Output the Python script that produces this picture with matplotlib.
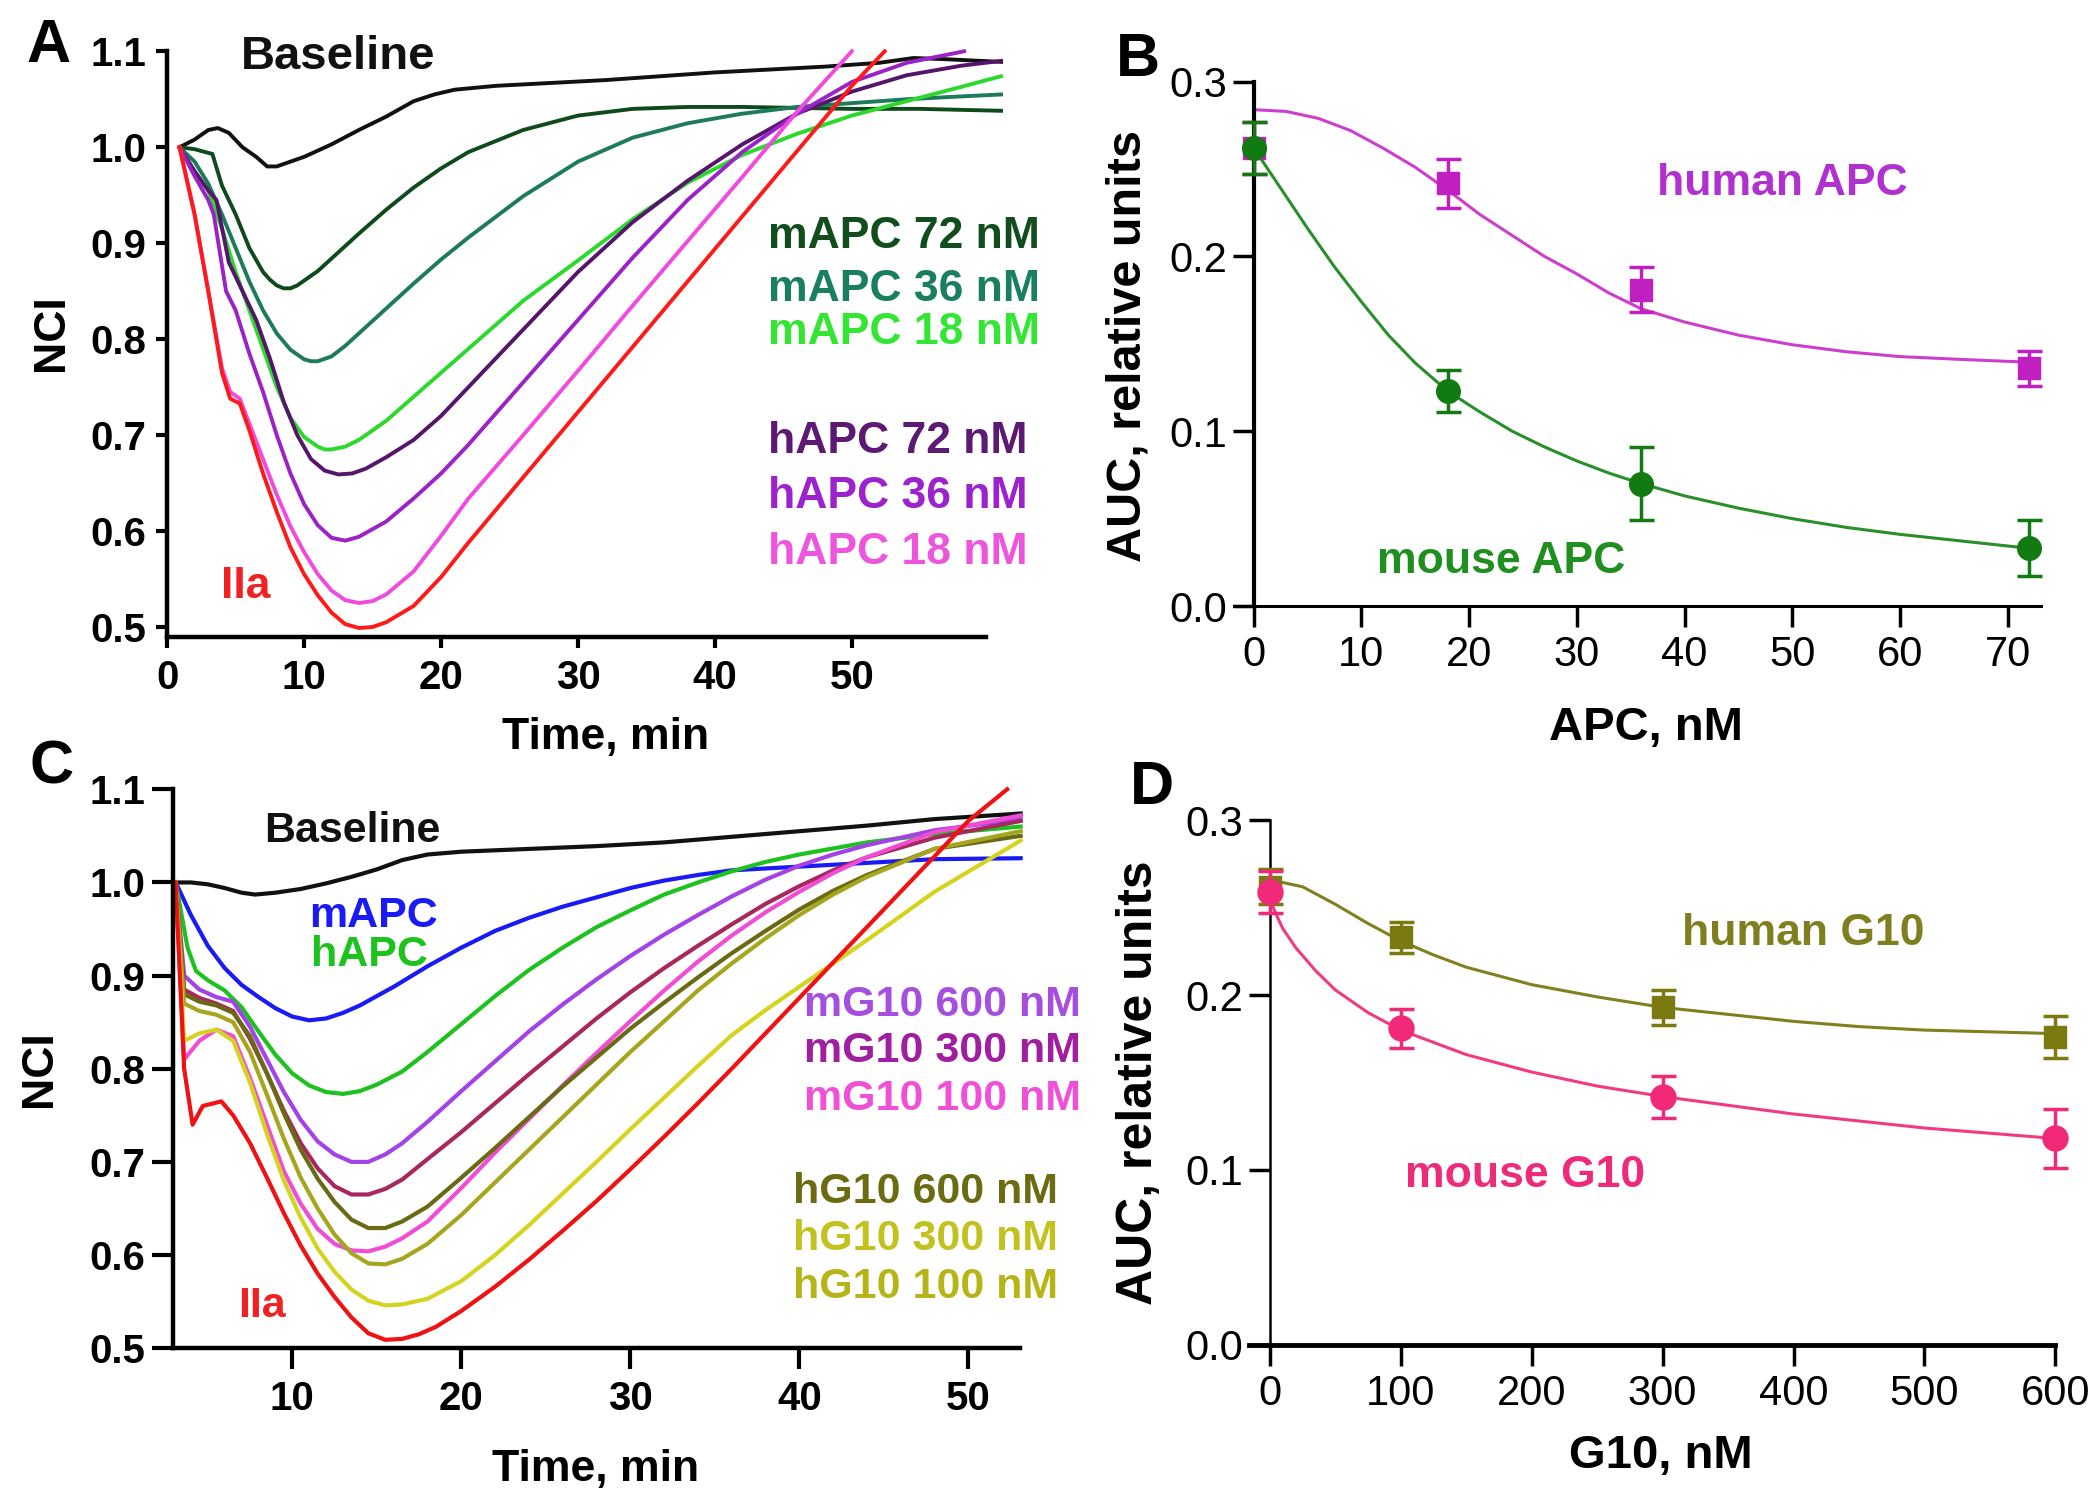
import matplotlib
matplotlib.use("Agg")
import matplotlib.pyplot as plt
from matplotlib import font_manager

plt.rcParams['font.family'] = ['Liberation Sans', 'DejaVu Sans']
plt.rcParams['font.weight'] = 'bold'
_names = {f.name for f in font_manager.fontManager.ttflist}
NARROW = 'Liberation Sans Narrow' if 'Liberation Sans Narrow' in _names else 'Liberation Sans'

W, H = 2100, 1508

# ---------------- Panel A data (NCI vs time) ----------------
a_t_base = [0.9, 2, 3, 3.7, 4.5, 5.5, 6.5, 7.3, 8, 9, 10, 12, 14, 16, 18, 19.5, 21, 24, 28, 32, 36, 40, 44, 48, 52, 54.5, 56.5, 60.9]
a_v_base = [1.0, 1.008, 1.018, 1.02, 1.015, 1.0, 0.99, 0.98, 0.98, 0.985, 0.99, 1.003, 1.018, 1.032, 1.048, 1.055, 1.06, 1.064, 1.067, 1.07, 1.074, 1.078, 1.081, 1.084, 1.088, 1.093, 1.092, 1.089]

a_t_m72 = [0.9, 2, 3.3, 4, 5, 6, 7, 7.5, 8, 8.5, 9, 9.5, 10, 11, 12, 14, 16, 18, 20, 22, 26, 30, 34, 38, 42, 46, 50, 55, 60.9]
a_v_m72 = [1.0, 0.998, 0.993, 0.96, 0.93, 0.895, 0.87, 0.862, 0.856, 0.853, 0.853, 0.856, 0.861, 0.871, 0.884, 0.91, 0.935, 0.958, 0.978, 0.995, 1.018, 1.033, 1.04, 1.042, 1.042, 1.041, 1.04, 1.04, 1.038]

a_t_m36 = [0.9, 2, 3, 4, 5, 6, 7, 8, 9, 10, 10.5, 11, 12, 13, 14, 16, 18, 20, 22, 26, 30, 34, 38, 42, 46, 50, 54, 58, 60.9]
a_v_m36 = [1.0, 0.985, 0.962, 0.93, 0.895, 0.86, 0.83, 0.806, 0.789, 0.779, 0.777, 0.777, 0.782, 0.793, 0.806, 0.832, 0.858, 0.883, 0.906, 0.949, 0.985, 1.01, 1.025, 1.035, 1.042, 1.046, 1.05, 1.053, 1.055]

a_t_m18 = [0.9, 2, 3, 4, 5, 6, 7, 8, 9, 10, 11, 11.5, 12, 13, 14, 16, 18, 20, 22, 26, 30, 34, 38, 42, 46, 50, 54, 58, 60.9]
a_v_m18 = [1.0, 0.975, 0.955, 0.915, 0.87, 0.83, 0.79, 0.75, 0.718, 0.698, 0.688, 0.685, 0.685, 0.688, 0.695, 0.715, 0.74, 0.765, 0.79, 0.84, 0.882, 0.925, 0.963, 0.992, 1.014, 1.033, 1.048, 1.063, 1.074]

a_t_h72 = [0.9, 2, 3, 3.6, 4.5, 5.5, 6.5, 7.5, 8.5, 9.5, 10.5, 11.5, 12.5, 13.5, 14.5, 16, 18, 20, 22, 26, 30, 34, 38, 42, 46, 50, 54, 58, 60.9]
a_v_h72 = [1.0, 0.975, 0.955, 0.945, 0.88, 0.85, 0.82, 0.78, 0.735, 0.7, 0.675, 0.663, 0.659, 0.66, 0.665, 0.677, 0.695, 0.72, 0.75, 0.81, 0.87, 0.922, 0.965, 1.003, 1.035, 1.058, 1.075, 1.085, 1.09]

a_t_h36 = [0.9, 2, 3, 3.4, 4.3, 5, 6, 7, 8, 9, 10, 11, 12, 13, 14, 16, 18, 20, 22, 26, 30, 34, 38, 42, 46, 50, 54, 58.2]
a_v_h36 = [1.0, 0.97, 0.945, 0.93, 0.85, 0.83, 0.785, 0.745, 0.70, 0.66, 0.628, 0.606, 0.593, 0.59, 0.594, 0.61, 0.634, 0.66, 0.69, 0.755, 0.82, 0.885, 0.945, 0.995, 1.035, 1.068, 1.088, 1.1]

a_t_h18 = [0.9, 2, 3, 4, 4.6, 5.3, 6, 7, 8, 9, 10, 11, 12, 13, 14, 15, 16, 18, 20, 22, 26, 30, 34, 38, 42, 46, 50]
a_v_h18 = [1.0, 0.93, 0.85, 0.77, 0.745, 0.738, 0.712, 0.675, 0.638, 0.605, 0.578, 0.555, 0.538, 0.528, 0.525, 0.527, 0.534, 0.558, 0.595, 0.634, 0.70, 0.767, 0.835, 0.902, 0.969, 1.037, 1.1]

a_t_iia = [0.9, 2, 3, 4, 4.6, 5.3, 6, 7, 8, 9, 10, 11, 12, 13, 14, 15, 16, 18, 20, 22, 26, 30, 34, 38, 42, 46, 50, 52.4]
a_v_iia = [1.0, 0.93, 0.85, 0.765, 0.738, 0.733, 0.705, 0.66, 0.62, 0.583, 0.555, 0.533, 0.515, 0.503, 0.499, 0.5, 0.505, 0.522, 0.552, 0.588, 0.656, 0.724, 0.792, 0.86, 0.928, 0.996, 1.064, 1.1]

# ---------------- Panel B data ----------------
apc_nM = [0, 18, 36, 72]
human_apc_auc = [0.262, 0.242, 0.181, 0.136]
human_apc_err = [0.015, 0.014, 0.013, 0.010]
mouse_apc_auc = [0.262, 0.123, 0.070, 0.033]
mouse_apc_err = [0.015, 0.012, 0.021, 0.016]
human_apc_fit_x = [0, 3, 6, 9, 12, 15, 18, 21, 24, 27, 30, 33, 36, 40, 45, 50, 55, 60, 66, 72]
human_apc_fit_y = [0.284, 0.283, 0.279, 0.272, 0.262, 0.251, 0.238, 0.224, 0.212, 0.200, 0.190, 0.179, 0.170, 0.1625, 0.155, 0.1495, 0.1455, 0.1427, 0.141, 0.1395]
mouse_apc_fit_x = [0, 2.5, 5, 7.5, 10, 12.5, 15, 18, 21, 24, 27, 30, 33, 36, 40, 45, 50, 55, 60, 66, 72]
mouse_apc_fit_y = [0.262, 0.239, 0.216, 0.194, 0.174, 0.155, 0.139, 0.123, 0.111, 0.100, 0.091, 0.083, 0.076, 0.070, 0.063, 0.056, 0.050, 0.045, 0.041, 0.037, 0.033]

# ---------------- Panel C data ----------------
c_t_base = [3.1, 4, 5, 6, 7, 7.8, 9, 10.5, 12, 13.5, 15, 16.5, 18, 20, 24, 28, 32, 36, 40, 44, 48, 53.1]
c_v_base = [1.0, 1.0, 0.998, 0.994, 0.989, 0.987, 0.989, 0.993, 0.999, 1.006, 1.014, 1.024, 1.03, 1.033, 1.036, 1.039, 1.043, 1.049, 1.055, 1.061, 1.068, 1.074]

c_t_mapc = [3.1, 4, 5, 6, 7, 8, 9, 10, 11, 12, 13, 14, 16, 18, 20, 22, 24, 26, 28, 30, 32, 34, 36, 38, 40, 44, 48, 53.1]
c_v_mapc = [1.0, 0.965, 0.932, 0.908, 0.89, 0.877, 0.865, 0.856, 0.852, 0.854, 0.86, 0.868, 0.888, 0.91, 0.93, 0.948, 0.962, 0.974, 0.984, 0.994, 1.002, 1.008, 1.013, 1.015, 1.017, 1.021, 1.025, 1.026]

c_t_hapc = [3.1, 3.8, 4.3, 5, 6, 7, 8, 9, 10, 11, 12, 13, 14, 15, 16.5, 18, 20, 22, 24, 26, 28, 30, 32, 34, 36, 38, 40, 44, 48, 53.1]
c_v_hapc = [1.0, 0.93, 0.905, 0.895, 0.884, 0.866, 0.84, 0.815, 0.795, 0.782, 0.775, 0.773, 0.776, 0.783, 0.797, 0.818, 0.848, 0.878, 0.906, 0.93, 0.952, 0.97, 0.987, 1.0, 1.012, 1.022, 1.03, 1.043, 1.052, 1.06]

c_t_g = [3.1, 3.6, 4.5, 5.5, 6.5, 7.5, 8.5, 9.5, 10.5, 11.5, 12.5, 13.5, 14.5, 15.5, 16.5, 18, 20, 22, 24, 26, 28, 30, 32, 34, 36, 38, 40, 42, 44, 48, 53.1]
c_v_mg600 = [1.0, 0.9, 0.885, 0.877, 0.872, 0.845, 0.81, 0.775, 0.745, 0.722, 0.708, 0.7, 0.7, 0.708, 0.72, 0.743, 0.776, 0.808, 0.84, 0.869, 0.896, 0.921, 0.944, 0.965, 0.985, 1.003, 1.018, 1.03, 1.04, 1.056, 1.068]
c_v_mg300 = [1.0, 0.885, 0.876, 0.87, 0.862, 0.832, 0.795, 0.755, 0.72, 0.693, 0.674, 0.665, 0.665, 0.671, 0.681, 0.703, 0.732, 0.763, 0.794, 0.824, 0.854, 0.882, 0.908, 0.932, 0.955, 0.977, 0.996, 1.013, 1.027, 1.048, 1.066]
c_v_mg100 = [1.0, 0.81, 0.83, 0.842, 0.835, 0.79, 0.74, 0.69, 0.655, 0.628, 0.612, 0.605, 0.604, 0.609, 0.618, 0.636, 0.672, 0.71, 0.746, 0.782, 0.817, 0.851, 0.884, 0.915, 0.943, 0.968, 0.99, 1.01, 1.027, 1.054, 1.072]
c_v_hg600 = [1.0, 0.88, 0.872, 0.868, 0.86, 0.835, 0.795, 0.752, 0.713, 0.682, 0.657, 0.638, 0.629, 0.629, 0.636, 0.652, 0.683, 0.715, 0.748, 0.781, 0.812, 0.843, 0.871, 0.898, 0.924, 0.948, 0.971, 0.991, 1.008, 1.036, 1.05]
c_v_hg300 = [1.0, 0.87, 0.862, 0.858, 0.85, 0.818, 0.772, 0.725, 0.683, 0.65, 0.622, 0.602, 0.591, 0.59, 0.596, 0.612, 0.643, 0.678, 0.713, 0.748, 0.783, 0.818, 0.851, 0.884, 0.913, 0.94, 0.965, 0.987, 1.006, 1.036, 1.055]
c_v_hg100 = [1.0, 0.83, 0.838, 0.842, 0.83, 0.785, 0.73, 0.68, 0.64, 0.607, 0.582, 0.563, 0.551, 0.546, 0.547, 0.553, 0.572, 0.6, 0.632, 0.666, 0.7, 0.735, 0.769, 0.803, 0.836, 0.863, 0.888, 0.913, 0.938, 0.99, 1.045]

c_t_iia = [3.1, 3.6, 4.1, 4.7, 5.8, 6.5, 7.5, 8.5, 9.5, 10.5, 11.5, 12.5, 13.5, 14.5, 15.5, 16.5, 17.5, 18.5, 20, 22, 24, 26, 28, 30, 32, 34, 36, 38, 40, 42, 44, 46, 48, 50, 52.3]
c_v_iia = [1.0, 0.8, 0.74, 0.76, 0.765, 0.75, 0.72, 0.683, 0.645, 0.61, 0.58, 0.555, 0.533, 0.516, 0.509, 0.51, 0.515, 0.523, 0.54, 0.566, 0.595, 0.626, 0.658, 0.692, 0.727, 0.763, 0.8, 0.838, 0.876, 0.914, 0.952, 0.99, 1.028, 1.066, 1.1]

# ---------------- Panel D data ----------------
g10_nM = [0, 100, 300, 600]
human_g10_auc = [0.262, 0.233, 0.193, 0.176]
human_g10_err = [0.010, 0.009, 0.010, 0.012]
mouse_g10_auc = [0.259, 0.181, 0.142, 0.118]
mouse_g10_err = [0.012, 0.011, 0.012, 0.017]
human_g10_fit_x = [0, 25, 50, 75, 100, 125, 150, 200, 250, 300, 350, 400, 450, 500, 550, 600]
human_g10_fit_y = [0.266, 0.262, 0.252, 0.241, 0.231, 0.223, 0.216, 0.206, 0.199, 0.193, 0.189, 0.185, 0.182, 0.180, 0.179, 0.178]
mouse_g10_fit_x = [0, 5, 10, 20, 35, 50, 75, 100, 150, 200, 250, 300, 350, 400, 450, 500, 550, 600]
mouse_g10_fit_y = [0.255, 0.246, 0.238, 0.227, 0.214, 0.203, 0.190, 0.180, 0.166, 0.156, 0.148, 0.142, 0.137, 0.132, 0.128, 0.124, 0.121, 0.118]

# ---------------- Figure ----------------
fig = plt.figure(figsize=(W / 100, H / 100), dpi=100)


def px_axes(left, right, top, bottom):
    return fig.add_axes([left / W, 1 - bottom / H, (right - left) / W, (bottom - top) / H])


def ftext(x, y, s, **kw):
    fig.text(x / W, 1 - y / H, s, **kw)


def style_kinetic(ax, tick_len, label_pad_x, label_pad_y):
    for s in ('top', 'right'):
        ax.spines[s].set_visible(False)
    for s in ('left', 'bottom'):
        ax.spines[s].set_linewidth(3.2)
    ax.tick_params(axis='both', direction='out', width=3, length=tick_len, labelsize=29)
    ax.tick_params(axis='x', pad=label_pad_x)
    ax.tick_params(axis='y', pad=label_pad_y)
    ax.yaxis.set_major_formatter(matplotlib.ticker.FormatStrFormatter('%.1f'))
    for lab in ax.get_xticklabels() + ax.get_yticklabels():
        lab.set_fontweight('bold')


def style_dose(ax, lw_left, lw_bottom):
    for s in ('top', 'right'):
        ax.spines[s].set_visible(False)
    ax.spines['left'].set_position(('data', 0))
    ax.spines['left'].set_linewidth(lw_left)
    ax.spines['bottom'].set_linewidth(lw_bottom)
    ax.tick_params(axis='both', direction='out', width=2.5, length=15, labelsize=30)
    ax.tick_params(axis='x', pad=6)
    ax.tick_params(axis='y', pad=4)
    ax.yaxis.set_major_formatter(matplotlib.ticker.FormatStrFormatter('%.1f'))
    for lab in ax.get_xticklabels() + ax.get_yticklabels():
        lab.set_fontfamily(NARROW)
        lab.set_fontweight('normal')


# ======== Panel A ========
axA = px_axes(167.2, 986, 51.3, 636.6)
axA.set_xlim(0, 59.8)
axA.set_ylim(0.49, 1.1)
axA.set_xticks([0, 10, 20, 30, 40, 50])
axA.set_yticks([0.5, 0.6, 0.7, 0.8, 0.9, 1.0, 1.1])
lwA = 2.8
for t, v, c in [
    (a_t_base, a_v_base, '#111111'),
    (a_t_m72, a_v_m72, '#0f4a1c'),
    (a_t_m36, a_v_m36, '#1d7a5a'),
    (a_t_m18, a_v_m18, '#2cd82c'),
    (a_t_h72, a_v_h72, '#55156a'),
    (a_t_h36, a_v_h36, '#9a22c6'),
    (a_t_h18, a_v_h18, '#f04ade'),
    (a_t_iia, a_v_iia, '#ff1a1a'),
]:
    axA.plot(t, v, color=c, lw=lwA, clip_on=False, solid_joinstyle='round')
style_kinetic(axA, 8, 8, 7)

axA.text(5.4, 1.094, 'Baseline', fontsize=34, color='#111111', ha='left', va='center')
for y, s, c in [
    (0.9075, 'mAPC 72 nM', '#124d1e'),
    (0.852, 'mAPC 36 nM', '#1a7f5f'),
    (0.807, 'mAPC 18 nM', '#33e633'),
    (0.693, 'hAPC 72 nM', '#5c1a73'),
    (0.636, 'hAPC 36 nM', '#9b22cc'),
    (0.578, 'hAPC 18 nM', '#ee55dd'),
]:
    axA.text(43.9, y, s, fontsize=32, color=c, ha='left', va='center')
axA.text(3.9, 0.542, 'IIa', fontsize=32, color='#ee2222', ha='left', va='center')
ftext(52, 333, 'NCI', fontsize=32, rotation=90, ha='center', va='center')
ftext(606, 737, 'Time, min', fontsize=32, ha='center', va='center')
ftext(49, 46, 'A', fontsize=44, ha='center', va='center')

# ======== Panel B ========
axB = px_axes(1234.4, 2041, 81.7, 606)
axB.set_xlim(-1.8, 73.1)
axB.set_ylim(0, 0.3)
axB.set_xticks([0, 10, 20, 30, 40, 50, 60, 70])
axB.set_yticks([0.0, 0.1, 0.2, 0.3])
axB.plot(human_apc_fit_x, human_apc_fit_y, color='#cc3fcc', lw=2.2, zorder=2)
axB.plot(mouse_apc_fit_x, mouse_apc_fit_y, color='#2a8f2a', lw=2.2, zorder=2)
axB.errorbar(apc_nM, human_apc_auc, yerr=human_apc_err, fmt='s', color='#c020c0',
             ms=16, capsize=9, elinewidth=2.5, capthick=2.5, zorder=3, clip_on=False)
axB.errorbar(apc_nM, mouse_apc_auc, yerr=mouse_apc_err, fmt='o', color='#117a11',
             ms=17, capsize=9, elinewidth=2.5, capthick=2.5, zorder=4, clip_on=False)
style_dose(axB, 3.0, 2.2)
axB.text(37.4, 0.2417, 'human APC', fontsize=32, color='#b030d0', ha='left', va='center')
axB.text(11.4, 0.0257, 'mouse APC', fontsize=32, color='#1f8f1f', ha='left', va='center')
ftext(1128, 346, 'AUC, relative units', fontsize=35, rotation=90, ha='center', va='center')
ftext(1646, 728, 'APC, nM', fontsize=34, ha='center', va='center')
ftext(1138, 61, 'B', fontsize=44, ha='center', va='center')

# ======== Panel C ========
axC = px_axes(173, 1020, 789.3, 1348.2)
axC.set_xlim(2.94, 53.06)
axC.set_ylim(0.5, 1.1)
axC.set_xticks([10, 20, 30, 40, 50])
axC.set_yticks([0.5, 0.6, 0.7, 0.8, 0.9, 1.0, 1.1])
lwC = 3.0
for t, v, c in [
    (c_t_base, c_v_base, '#111111'),
    (c_t_mapc, c_v_mapc, '#1a1af5'),
    (c_t_hapc, c_v_hapc, '#1ec21e'),
    (c_t_g, c_v_mg600, '#a342e6'),
    (c_t_g, c_v_mg300, '#a8285e'),
    (c_t_g, c_v_mg100, '#f04cd4'),
    (c_t_g, c_v_hg600, '#6a6a14'),
    (c_t_g, c_v_hg300, '#a6a61e'),
    (c_t_g, c_v_hg100, '#d4d420'),
    (c_t_iia, c_v_iia, '#f01212'),
]:
    axC.plot(t, v, color=c, lw=lwC, clip_on=False, solid_joinstyle='round')
style_kinetic(axC, 15, 8, 5)
axC.text(8.35, 1.055, 'Baseline', fontsize=31, color='#111111', ha='left', va='center')
axC.text(11.0, 0.964, 'mAPC', fontsize=31, color='#1a1af5', ha='left', va='center')
axC.text(11.1, 0.922, 'hAPC', fontsize=31, color='#1ec21e', ha='left', va='center')
for x, y, s, c in [
    (40.3, 0.868, 'mG10 600 nM', '#a64ee0'),
    (40.3, 0.819, 'mG10 300 nM', '#a01ea0'),
    (40.3, 0.768, 'mG10 100 nM', '#f050d8'),
    (39.6, 0.668, 'hG10 600 nM', '#6b6b12'),
    (39.6, 0.617, 'hG10 300 nM', '#c2c21e'),
    (39.6, 0.566, 'hG10 100 nM', '#b5b518'),
]:
    axC.text(x, y, s, fontsize=31, color=c, ha='left', va='center')
axC.text(6.8, 0.545, 'IIa', fontsize=31, color='#ee2222', ha='left', va='center')
ftext(40, 1069, 'NCI', fontsize=32, rotation=90, ha='center', va='center')
ftext(596, 1470, 'Time, min', fontsize=32, ha='center', va='center')
ftext(52, 768, 'C', fontsize=44, ha='center', va='center')

# ======== Panel D ========
axD = px_axes(1248.8, 2055.4, 820.3, 1344.8)
axD.set_xlim(-16, 600)
axD.set_ylim(0, 0.3)
axD.set_xticks([0, 100, 200, 300, 400, 500, 600])
axD.set_yticks([0.0, 0.1, 0.2, 0.3])
axD.plot(human_g10_fit_x, human_g10_fit_y, color='#80801e', lw=2.2, zorder=2)
axD.plot(mouse_g10_fit_x, mouse_g10_fit_y, color='#f03a82', lw=2.2, zorder=2)
axD.errorbar(g10_nM, human_g10_auc, yerr=human_g10_err, fmt='s', color='#7a7a10',
             ms=16, capsize=9, elinewidth=2.5, capthick=2.5, zorder=3, clip_on=False)
axD.errorbar(g10_nM, mouse_g10_auc, yerr=mouse_g10_err, fmt='o', color='#f02a78',
             ms=18, capsize=9, elinewidth=2.5, capthick=2.5, zorder=4, clip_on=False)
style_dose(axD, 1.8, 3.5)
axD.text(315, 0.235, 'human G10', fontsize=32, color='#7f7f20', ha='left', va='center')
axD.text(103, 0.0971, 'mouse G10', fontsize=32, color='#ee2a7b', ha='left', va='center')
ftext(1139, 1083, 'AUC, relative units', fontsize=36, rotation=90, ha='center', va='center')
ftext(1661, 1456, 'G10, nM', fontsize=34, ha='center', va='center')
ftext(1152, 789, 'D', fontsize=44, ha='center', va='center')

fig.savefig('out.png', dpi=100)
